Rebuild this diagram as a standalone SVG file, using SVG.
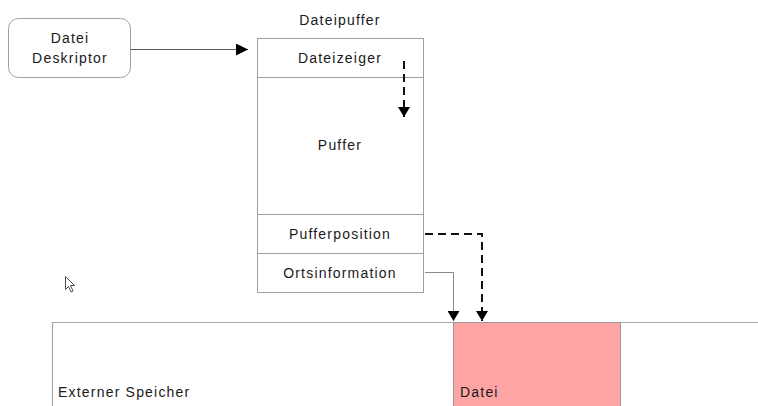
<svg xmlns="http://www.w3.org/2000/svg" width="758" height="406" viewBox="0 0 758 406">
  <defs>
    <marker id="arrow" viewBox="0 0 10 12" refX="10" refY="6" markerWidth="10" markerHeight="12" markerUnits="userSpaceOnUse" orient="auto">
      <path d="M0,0 L10,6 L0,12 Z" fill="#000"/>
    </marker>
    <marker id="arrowBig" viewBox="0 0 12 12" refX="12" refY="6" markerWidth="12" markerHeight="12" markerUnits="userSpaceOnUse" orient="auto">
      <path d="M0,0 L12,6 L0,12 Z" fill="#000"/>
    </marker>
  </defs>
  <style>
    text { font-family: "Liberation Sans", Arial, sans-serif; font-size: 14px; fill: #1a1a1a; letter-spacing: 1.2px; }
    .mid { text-anchor: middle; }
    .box { fill: #fff; stroke: #a0a0a0; stroke-width: 1; }
    .sep { stroke: #a0a0a0; stroke-width: 1; }
    .solid { fill: none; stroke: #555; stroke-width: 1; }
    .dashed { fill: none; stroke: #111; stroke-width: 2; stroke-dasharray: 8 5; }
  </style>

  <rect width="758" height="406" fill="#fff"/>

  <!-- external storage area -->
  <g id="externer-speicher">
    <path d="M52.5,406 V322.5 H758" fill="none" stroke="#a8a8a8" stroke-width="1.2"/>
    <text x="58" y="397">Externer Speicher</text>
  </g>

  <!-- file on external storage -->
  <g id="datei">
    <rect x="453.5" y="322.5" width="167" height="90" fill="#ffa4a4" stroke="#999" stroke-width="1"/>
    <text x="460" y="397">Datei</text>
  </g>

  <!-- file descriptor -->
  <g id="datei-deskriptor">
    <rect x="8.5" y="18.5" width="122" height="59" rx="10" ry="10" class="box"/>
    <text x="70" y="43" class="mid">Datei</text>
    <text x="70" y="63" class="mid">Deskriptor</text>
  </g>

  <!-- file buffer -->
  <g id="dateipuffer">
    <text x="340" y="25" class="mid">Dateipuffer</text>
    <rect x="257.5" y="38.5" width="166" height="254" class="box"/>
    <line x1="257.5" y1="77.5" x2="423.5" y2="77.5" class="sep"/>
    <line x1="257.5" y1="214.5" x2="423.5" y2="214.5" class="sep"/>
    <line x1="257.5" y1="253.5" x2="423.5" y2="253.5" class="sep"/>
    <text x="340" y="63" class="mid">Dateizeiger</text>
    <text x="340" y="150" class="mid">Puffer</text>
    <text x="340" y="239" class="mid">Pufferposition</text>
    <text x="340" y="278" class="mid">Ortsinformation</text>
  </g>

  <!-- connectors -->
  <g id="connectors">
    <line x1="130.5" y1="49.5" x2="248" y2="49.5" class="solid" marker-end="url(#arrowBig)"/>
    <line x1="404" y1="61" x2="404" y2="117" class="dashed" marker-end="url(#arrow)"/>
    <path d="M425,234 H482 V321" class="dashed" marker-end="url(#arrow)"/>
    <path d="M425,272.5 H453.5 V321" fill="none" stroke="#888" stroke-width="1" marker-end="url(#arrow)"/>
  </g>

  <!-- mouse pointer -->
  <path d="M65.5,276.5 V289.5 L68.5,286.5 L71,292 L73,291 L70.5,285.5 L74.5,285.5 Z" fill="#fff" stroke="#222" stroke-width="0.8"/>
</svg>
